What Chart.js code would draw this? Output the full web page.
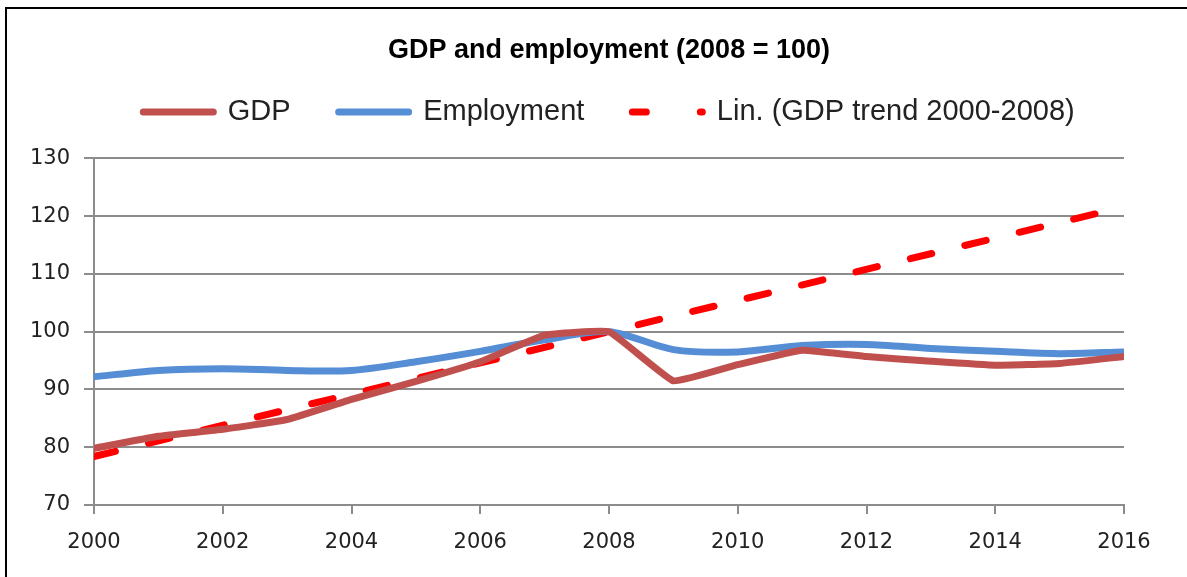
<!DOCTYPE html>
<html>
<head>
<meta charset="utf-8">
<script src="https://cdn.jsdelivr.net/npm/chart.js@4/dist/chart.umd.min.js"></script>
<style>
  html, body { margin: 0; padding: 0; background: #fff; }
  #wrap { position: relative; width: 1187px; height: 577px; overflow: hidden; }
  #frame { position: absolute; left: 5px; top: 7px; right: -10px; bottom: -10px;
           border-left: 2px solid #000; border-top: 2px solid #000; pointer-events: none; }
  canvas { position: absolute; left: 0; top: 0; }
</style>
</head>
<body>
<div id="wrap">
  <canvas id="c" width="1187" height="577"></canvas>
  <div id="frame"></div>
</div>
<script>
const years = [2000, 2001, 2002, 2003, 2004, 2005, 2006, 2007, 2008, 2009, 2010, 2011, 2012, 2013, 2014, 2015, 2016];
const gdp = [79.8, 81.9, 83.1, 84.8, 88.3, 91.4, 94.8, 99.4, 100, 91.5, 94.3, 96.8, 95.7, 94.9, 94.2, 94.5, 95.7];
const employment = [92.2, 93.3, 93.6, 93.3, 93.3, 94.8, 96.6, 98.6, 100, 96.9, 96.5, 97.6, 97.8, 97.1, 96.6, 96.2, 96.5];
const trendYears = [2000, 2016];
const trendValues = [78.4, 121.6];
const titleText = 'GDP and employment (2008 = 100)';
const seriesNames = ['GDP', 'Employment', 'Lin. (GDP trend 2000-2008)'];

const toXY = (xs, ys) => xs.map((x, i) => ({ x: x, y: ys[i] }));

const colors = ['#C0504D', '#558ED5', '#FF0000'];
const legendDash = [[], [], [14, 54, 2, 100]];
const gridColor = '#8c8c8c';
const tickFont = { family: 'DejaVu Sans', size: 21 };

const legendSpacer = {
  id: 'legendSpacer',
  beforeLayout(chart) {
    const lg = chart.legend;
    if (lg && !lg._patched) {
      const orig = lg.fit;
      lg.fit = function () {
        this.maxWidth = Math.max(this.maxWidth, 1150);
        orig.call(this);
        this.height += 22;
      };
      lg._patched = true;
    }
  }
};

new Chart(document.getElementById('c'), {
  type: 'line',
  data: {
    datasets: [
      { label: seriesNames[0], data: toXY(years, gdp), borderColor: colors[0], backgroundColor: colors[0],
        borderWidth: 7, pointRadius: 0, tension: 0.1, borderCapStyle: 'round', borderJoinStyle: 'round' },
      { label: seriesNames[1], data: toXY(years, employment), borderColor: colors[1], backgroundColor: colors[1],
        borderWidth: 7, pointRadius: 0, tension: 0.3, borderCapStyle: 'round', borderJoinStyle: 'round' },
      { label: seriesNames[2], data: toXY(trendYears, trendValues), borderColor: colors[2], backgroundColor: colors[2],
        borderWidth: 7, pointRadius: 0, borderDash: [22, 34], borderCapStyle: 'round' }
    ]
  },
  plugins: [legendSpacer],
  options: {
    responsive: false,
    animation: false,
    events: [],
    layout: { padding: { left: 0, right: 63, top: 0, bottom: 0 } },
    plugins: {
      title: {
        display: true, text: titleText, color: '#000', fullSize: false,
        font: { family: 'Liberation Sans', size: 27, weight: 'bold' },
        padding: { top: 34, bottom: -17 }
      },
      legend: {
        display: true, position: 'top', fullSize: false,
        labels: {
          color: '#222', font: { family: 'Liberation Sans', size: 29 },
          usePointStyle: true, pointStyle: 'line', pointStyleWidth: 70, boxHeight: 7, padding: 48,
          generateLabels: chart => {
            const items = Chart.defaults.plugins.legend.labels.generateLabels(chart);
            return items.map((it, i) => Object.assign({}, it, {
              lineWidth: 7, lineCap: 'round', lineDash: legendDash[i],
              strokeStyle: colors[i], fillStyle: colors[i], pointStyle: 'line'
            }));
          }
        }
      },
      tooltip: { enabled: false }
    },
    scales: {
      x: {
        type: 'linear', min: 2000, max: 2016,
        ticks: { stepSize: 2, color: '#222', font: tickFont, padding: 16, maxRotation: 0,
                 callback: v => String(v) },
        grid: { drawOnChartArea: false, drawTicks: true, tickLength: 9, color: gridColor, lineWidth: 2 },
        border: { display: true, color: gridColor, width: 2 },
        afterFit: s => { s.height = 72; }
      },
      y: {
        min: 70, max: 130,
        ticks: { stepSize: 10, color: '#222', font: tickFont, padding: 14 },
        grid: { drawOnChartArea: true, drawTicks: true, tickLength: 10, color: gridColor, lineWidth: 2 },
        border: { display: true, color: gridColor, width: 2 },
        afterFit: s => { s.width = 94; }
      }
    }
  }
});
</script>
</body>
</html>
